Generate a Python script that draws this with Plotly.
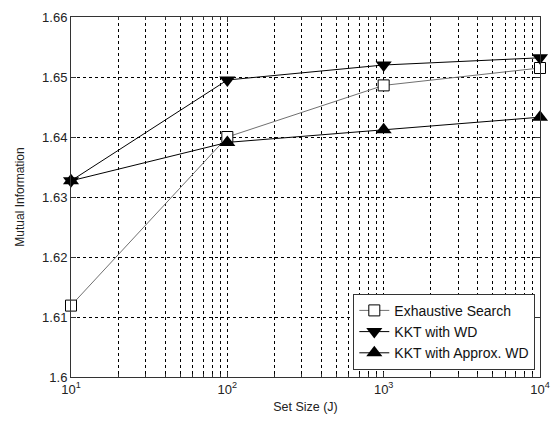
import plotly.graph_objects as go

set_size = [10, 100, 1000, 10000]
exhaustive = [1.6119, 1.6400, 1.6486, 1.6515]
kkt_wd = [1.6327, 1.6495, 1.6520, 1.6532]
kkt_approx = [1.6327, 1.6391, 1.6412, 1.6433]
x_tickvals = [10, 100, 1000, 10000]
x_ticktext = ["10<sup>1</sup>", "10<sup>2</sup>", "10<sup>3</sup>", "10<sup>4</sup>"]
y_tickvals = [1.6, 1.61, 1.62, 1.63, 1.64, 1.65, 1.66]
y_ticktext = ["1.6", "1.61", "1.62", "1.63", "1.64", "1.65", "1.66"]

FONT = "Liberation Sans, Arial"

fig = go.Figure()
fig.add_trace(go.Scatter(x=set_size, y=exhaustive, name="Exhaustive Search", mode="lines+markers",
                         cliponaxis=False,
                         line=dict(color="#707070", width=1),
                         marker=dict(symbol="square", size=11, color="white", line=dict(color="black", width=1))))
fig.add_trace(go.Scatter(x=set_size, y=kkt_wd, name="KKT with WD", mode="lines+markers",
                         cliponaxis=False,
                         line=dict(color="black", width=1),
                         marker=dict(symbol="triangle-down", size=14, color="black")))
fig.add_trace(go.Scatter(x=set_size, y=kkt_approx, name="KKT with Approx. WD", mode="lines+markers",
                         cliponaxis=False,
                         line=dict(color="black", width=1),
                         marker=dict(symbol="triangle-up", size=14, color="black")))

axis_common = dict(showline=True, linecolor="#333", linewidth=1, mirror="ticks",
                   ticks="inside", ticklen=5, tickcolor="#333",
                   showgrid=True, gridcolor="black", griddash="3px,3px", gridwidth=1,
                   zeroline=False, tickfont=dict(family=FONT, size=13, color="#222"))

fig.update_xaxes(type="log", range=[1, 4], tickvals=x_tickvals, ticktext=x_ticktext,
                 title=dict(text="Set Size (J)", font=dict(family=FONT, size=12.5, color="#222"), standoff=6),
                 minor=dict(dtick="D1", showgrid=True, gridcolor="black", griddash="3px,3px", gridwidth=1,
                            ticks="inside", ticklen=3, tickcolor="#333"),
                 **axis_common)
fig.update_yaxes(range=[1.6, 1.66], tickvals=y_tickvals, ticktext=y_ticktext,
                 title=dict(text="Mutual Information", font=dict(family=FONT, size=12, color="#222"), standoff=14),
                 **axis_common)

fig.update_layout(
    width=560, height=425,
    margin=dict(l=71, r=17, t=10, b=48),
    paper_bgcolor="white", plot_bgcolor="white",
    showlegend=True,
    legend=dict(x=0.99, y=0.02, xanchor="right", yanchor="bottom",
                bgcolor="white", bordercolor="#333", borderwidth=1,
                font=dict(family=FONT, size=14, color="#111"),
                tracegroupgap=0),
)

fig.write_html("out.html")
